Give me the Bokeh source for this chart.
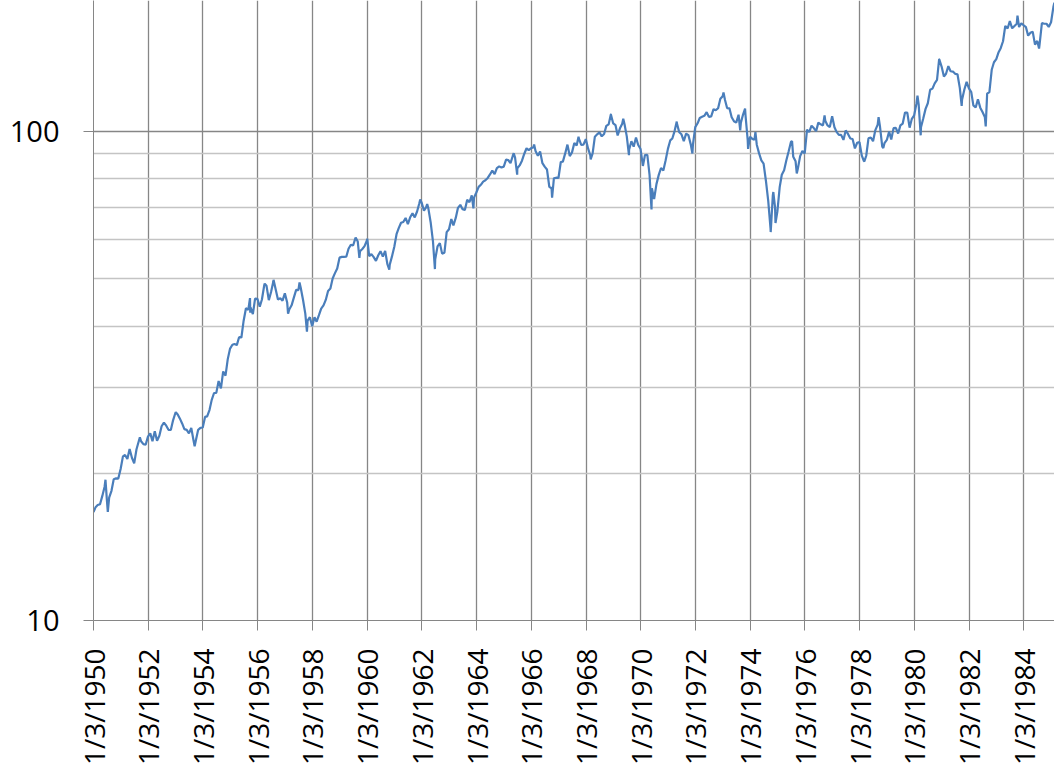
import math
import pandas as pd
from bokeh.plotting import figure
from bokeh.models import Range1d, FixedTicker, CustomJSTickFormatter, ColumnDataSource
from bokeh.embed import file_html
from bokeh.resources import INLINE

# ---- data (S&P 500 index level, log scale) ----
first_month = "1950-01"
monthly_close = [
    17.05, 17.22, 17.29, 17.96, 18.78, 17.69, 17.84, 18.42, 19.45, 19.53, 19.51, 20.41,  # 1950
    21.66, 21.80, 21.40, 22.43, 21.52, 20.96, 22.40, 23.28, 23.26, 22.94, 22.88, 23.77,  # 1951
    24.14, 23.26, 24.37, 23.32, 23.86, 24.96, 25.40, 25.03, 24.54, 24.52, 25.66, 26.57,  # 1952
    26.38, 25.90, 25.29, 24.62, 24.54, 24.14, 24.75, 23.32, 23.35, 24.54, 24.76, 24.81,  # 1953
    26.08, 26.15, 26.94, 28.26, 29.19, 29.21, 30.88, 29.83, 32.31, 31.68, 34.24, 35.98,  # 1954
    36.63, 36.76, 36.58, 37.96, 37.91, 41.03, 43.52, 43.18, 43.67, 42.34, 45.51, 45.48,  # 1955
    43.82, 45.34, 48.48, 48.38, 45.20, 46.97, 49.39, 47.51, 45.35, 45.58, 45.08, 46.67,  # 1956
    44.72, 43.26, 44.11, 45.74, 47.43, 47.37, 47.91, 45.22, 42.42, 41.06, 41.72, 39.99,  # 1957
    41.70, 40.84, 42.10, 43.44, 44.09, 45.24, 47.19, 47.75, 50.06, 51.33, 52.48, 55.21,  # 1958
    55.42, 55.41, 55.44, 57.59, 58.68, 58.47, 60.51, 59.60, 56.88, 57.52, 58.28, 59.89,  # 1959
    55.61, 56.12, 55.34, 54.37, 55.83, 56.92, 55.51, 56.96, 53.52, 53.39, 55.54, 58.11,  # 1960
    61.78, 63.44, 65.06, 65.31, 66.56, 64.64, 66.76, 68.07, 66.73, 68.62, 71.32, 71.55,  # 1961
    68.84, 69.96, 69.55, 65.24, 59.63, 54.75, 58.23, 59.12, 56.27, 56.52, 62.26, 63.10,  # 1962
    66.20, 64.29, 66.57, 69.80, 70.80, 69.37, 69.13, 72.50, 71.70, 74.01, 73.23, 75.02,  # 1963
    77.04, 77.80, 78.98, 79.46, 80.37, 81.69, 83.18, 81.83, 84.18, 84.86, 84.42, 84.75,  # 1964
    87.56, 87.43, 86.16, 89.11, 88.42, 84.12, 85.25, 87.17, 89.96, 92.42, 91.61, 92.43,  # 1965
    92.88, 91.22, 89.23, 91.06, 86.13, 84.74, 83.60, 77.10, 76.56, 80.20, 80.45, 80.33,  # 1966
    86.61, 86.78, 90.20, 94.01, 89.08, 90.64, 94.75, 93.64, 96.71, 93.90, 94.00, 96.47,  # 1967
    92.24, 89.36, 90.20, 97.59, 98.68, 99.58, 97.74, 98.86, 102.67, 103.41, 108.37, 103.86,  # 1968
    103.01, 98.13, 101.51, 103.69, 103.46, 97.71, 91.83, 95.51, 93.12, 97.24, 93.81, 92.06,  # 1969
    85.02, 89.50, 89.63, 81.52, 76.55, 72.72, 78.05, 81.52, 84.21, 83.25, 87.20, 92.15,  # 1970
    95.88, 96.75, 100.31, 103.95, 99.63, 98.70, 95.58, 99.03, 98.34, 94.23, 93.99, 102.09,  # 1971
    103.94, 106.57, 107.20, 107.67, 109.53, 107.14, 107.39, 111.09, 110.55, 111.58, 116.67, 118.05,  # 1972
    116.03, 111.68, 111.52, 106.97, 104.95, 104.26, 108.22, 104.25, 108.43, 108.29, 95.96, 97.55,  # 1973
    96.57, 96.22, 93.98, 90.31, 87.28, 86.00, 79.31, 72.15, 63.54, 73.90, 69.97, 68.56,  # 1974
    76.98, 81.59, 83.36, 87.30, 91.15, 95.19, 88.75, 86.88, 83.87, 89.04, 91.24, 90.19,  # 1975
    100.86, 99.71, 102.77, 101.64, 100.18, 104.28, 103.44, 102.91, 105.24, 102.90, 102.10, 107.46,  # 1976
    102.03, 99.82, 98.42, 98.44, 96.12, 100.48, 98.85, 96.77, 96.53, 92.34, 94.83, 95.10,  # 1977
    89.25, 87.04, 89.21, 96.83, 97.24, 95.53, 100.68, 103.29, 102.54, 93.15, 94.70, 96.11,  # 1978
    99.93, 96.28, 101.59, 101.76, 99.08, 102.91, 103.81, 109.32, 109.32, 101.82, 106.16, 107.94,  # 1979
    114.16, 113.66, 102.09, 106.29, 111.24, 114.24, 121.67, 122.38, 125.46, 127.47, 140.52, 135.76,  # 1980
    129.55, 131.27, 136.00, 132.81, 132.59, 131.21, 130.92, 122.79, 116.18, 121.89, 126.35, 122.55,  # 1981
    120.40, 113.11, 111.96, 116.44, 111.88, 109.61, 107.09, 119.51, 120.42, 133.71, 138.54, 140.64,  # 1982
    145.30, 148.06, 152.96, 164.42, 162.39, 168.11, 162.56, 164.40, 166.07, 163.55, 166.40, 164.93,  # 1983
    163.41, 157.06, 159.18, 160.05, 150.55, 153.18, 150.66, 166.68, 166.10, 166.09, 163.58, 167.24,  # 1984
    179.63,  # 1985
]

peak_trough_dates = [
    "1950-01-03", "1950-06-12", "1950-07-13", "1951-09-14", "1953-01-05", "1953-09-14",
    "1955-09-23", "1955-09-26", "1956-04-06", "1956-08-02", "1957-02-12", "1957-07-15",
    "1957-10-22", "1959-08-03", "1959-09-22", "1960-01-05", "1960-10-25", "1961-12-12",
    "1962-03-15", "1962-06-26", "1963-11-22", "1965-05-13", "1965-06-28", "1966-02-09",
    "1966-10-07", "1967-09-25", "1968-03-05", "1968-11-29", "1969-05-14", "1969-07-29",
    "1970-05-26", "1971-04-28", "1971-11-23", "1973-01-11", "1973-08-22", "1973-10-26",
    "1973-12-05", "1974-03-13", "1974-10-03", "1974-11-07", "1974-12-06", "1975-07-15",
    "1975-09-16", "1976-09-21", "1978-03-06", "1978-09-12", "1978-11-14", "1980-02-13",
    "1980-03-27", "1980-11-28", "1981-09-25", "1982-08-12", "1983-10-10", "1984-07-24",
    "1985-02-13", "1985-02-20",
]
peak_trough_values = [
    16.66, 19.40, 16.68, 23.69, 26.66, 22.71,
    45.63, 42.61, 48.85, 49.74, 42.39, 49.13,
    38.98, 60.71, 55.14, 60.39, 52.20, 72.64,
    71.06, 52.32, 69.61, 90.27, 81.60, 94.06,
    73.20, 97.59, 87.72, 108.37, 106.16, 89.48,
    69.29, 104.77, 90.16, 120.24, 100.53, 111.38,
    92.16, 99.74, 62.28, 75.21, 65.01, 95.61,
    82.09, 107.83, 86.90, 106.99, 92.49, 118.44,
    98.22, 140.52, 112.77, 102.42, 172.65, 147.82,
    183.35, 180.0,
]

tick_dates = ["1950-01-03", "1952-01-03", "1954-01-03", "1956-01-03", "1958-01-03",
              "1960-01-03", "1962-01-03", "1964-01-03", "1966-01-03", "1968-01-03",
              "1970-01-03", "1972-01-03", "1974-01-03", "1976-01-03", "1978-01-03",
              "1980-01-03", "1982-01-03", "1984-01-03"]
y_major_ticks = [10, 100]
y_minor_ticks = [20, 30, 40, 50, 60, 70, 80, 90]

# ---- assemble series ----
start = pd.Timestamp(first_month + "-01")
month_dates = [start + pd.DateOffset(months=i) + pd.offsets.MonthEnd(0) for i in range(len(monthly_close))]
df = pd.concat([
    pd.DataFrame({"date": month_dates, "value": monthly_close}),
    pd.DataFrame({"date": pd.to_datetime(peak_trough_dates), "value": peak_trough_values}),
]).drop_duplicates("date").sort_values("date")
source = ColumnDataSource(df)

def ms(d):
    return pd.Timestamp(d).value / 1e6

x_start = ms("1950-01-03")
x_end = ms("1985-02-15")
y_top = 10 ** (2 + 131 / 489)

p = figure(
    frame_width=961, frame_height=620,
    x_axis_type="datetime", y_axis_type="log",
    x_range=Range1d(x_start, x_end), y_range=Range1d(10, y_top),
    output_backend="svg", toolbar_location=None,
    min_border_left=93, min_border_right=0, min_border_top=0, min_border_bottom=150,
    background_fill_color="white", border_fill_color="white",
)
p.outline_line_color = None

p.line("date", "value", source=source, line_color="#4a7ebb", line_width=2.2)

grid_dark = "#868686"
font = "Open Sans"

# x axis
p.xaxis.ticker = FixedTicker(ticks=[ms(d) for d in tick_dates])
p.xaxis.formatter = CustomJSTickFormatter(code="""
const d = new Date(tick);
return (d.getUTCMonth() + 1) + "/" + d.getUTCDate() + "/" + d.getUTCFullYear();
""")
p.xaxis.major_label_orientation = math.pi / 2
p.xaxis.axis_line_color = grid_dark
p.xaxis.major_tick_line_color = grid_dark
p.xaxis.major_tick_out = 10
p.xaxis.major_tick_in = 0
p.xaxis.minor_tick_line_color = None
p.xaxis.major_label_standoff = 18
p.xaxis.major_label_text_font = font
p.xaxis.major_label_text_font_size = "28px"
p.xaxis.major_label_text_color = "black"

# y axis
p.yaxis.ticker = FixedTicker(ticks=y_major_ticks, minor_ticks=y_minor_ticks)
p.yaxis.formatter = CustomJSTickFormatter(code="return tick.toFixed(0);")
p.yaxis.axis_line_color = grid_dark
p.yaxis.major_tick_line_color = grid_dark
p.yaxis.major_tick_out = 10
p.yaxis.major_tick_in = 0
p.yaxis.minor_tick_line_color = None
p.yaxis.major_label_standoff = 24
p.yaxis.major_label_text_font = font
p.yaxis.major_label_text_font_size = "29px"
p.yaxis.major_label_text_color = "black"

# grids
p.xgrid.grid_line_color = grid_dark
p.xgrid.grid_line_width = 1.3
p.ygrid.grid_line_color = grid_dark
p.ygrid.grid_line_width = 1.3
p.ygrid.minor_grid_line_color = "#c4c4c4"
p.ygrid.minor_grid_line_width = 1.3

open("out.html", "w").write(file_html(p, INLINE))
